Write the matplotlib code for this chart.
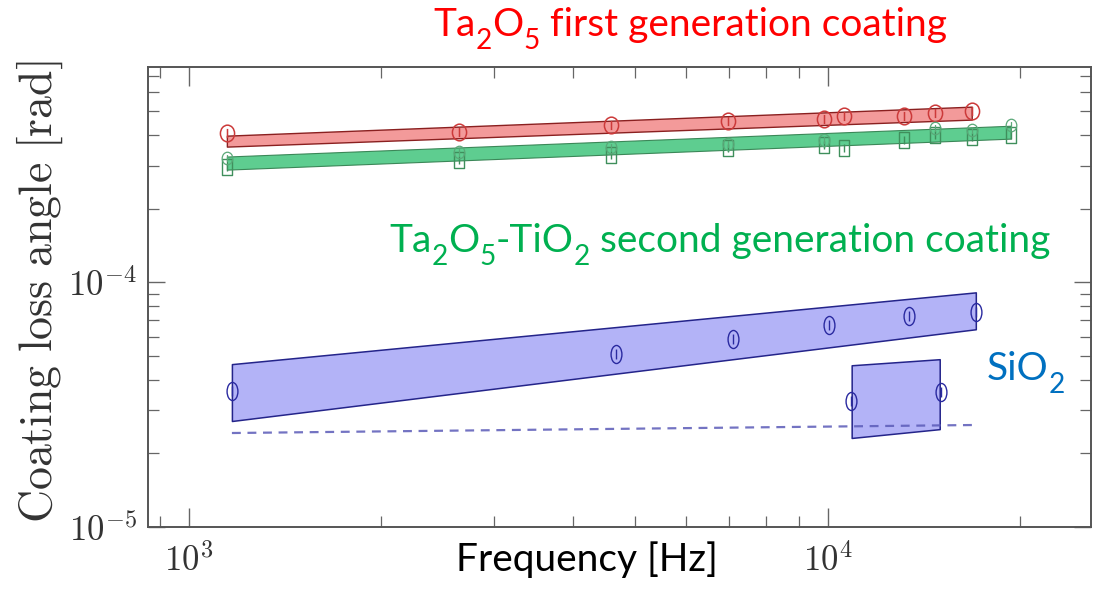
import numpy as np
import matplotlib
matplotlib.use("Agg")
import matplotlib.pyplot as plt
from matplotlib.path import Path
from matplotlib.transforms import Affine2D, IdentityTransform

plt.rcParams["mathtext.fontset"] = "cm"

# --- Ta2O5 (first generation) -------------------------------------------
ta_freq = [1147, 2645, 4575, 6975, 9856, 10590, 13150, 14710, 16800]
ta_loss = [4.08e-4, 4.11e-4, 4.42e-4, 4.58e-4, 4.66e-4, 4.80e-4, 4.77e-4, 4.93e-4, 5.00e-4]
ta_band_freq = [1147, 16800]
ta_band_lo = [3.59e-4, 4.63e-4]
ta_band_hi = [3.98e-4, 5.23e-4]

# --- Ta2O5-TiO2 (second generation) -------------------------------------
tt_sq_freq = [1147, 2645, 4575, 6975, 9856, 10590, 13150, 14710, 16800, 19340]
tt_sq_loss = [2.95e-4, 3.15e-4, 3.33e-4, 3.56e-4, 3.66e-4, 3.56e-4, 3.83e-4, 4.02e-4, 3.94e-4, 4.02e-4]
tt_ci_freq = [1147, 2645, 4575, 6975, 9856, 14710, 16800, 19340]
tt_ci_loss = [3.24e-4, 3.42e-4, 3.59e-4, 3.69e-4, 3.83e-4, 4.29e-4, 4.21e-4, 4.42e-4]
tt_band_freq = [1147, 19340]
tt_band_lo = [2.89e-4, 3.87e-4]
tt_band_hi = [3.27e-4, 4.37e-4]

# --- SiO2 ----------------------------------------------------------------
si_freq = [1168, 4660, 7100, 10040, 13390, 17050]
si_loss = [3.59e-5, 5.08e-5, 5.85e-5, 6.67e-5, 7.27e-5, 7.54e-5]
si_band_freq = [1168, 17050]
si_band_lo = [2.71e-5, 6.43e-5]
si_band_hi = [4.63e-5, 9.10e-5]

si2_freq = [10870, 15030]
si2_loss = [3.27e-5, 3.56e-5]
si2_band_freq = [10900, 14970]
si2_band_lo = [2.31e-5, 2.51e-5]
si2_band_hi = [4.58e-5, 4.85e-5]

si_ref_freq = [1168, 17050]
si_ref_loss = [2.42e-5, 2.61e-5]

# label text: (string, is_subscript) pieces
ta_label = [("Ta", False), ("2", True), ("O", False), ("5", True), (" first generation coating", False)]
tt_label = [("Ta", False), ("2", True), ("O", False), ("5", True), ("-TiO", False), ("2", True),
            (" second generation coating", False)]
si_label = [("SiO", False), ("2", True)]

# marker shapes: outline with a small vertical bar inside
circ = Path.unit_circle()
bar = Path([(0, -0.55), (0, 0.55)], [Path.MOVETO, Path.LINETO])
tall_ellipse = Path.make_compound_path(circ.transformed(Affine2D().scale(0.6, 1.0)), bar)
round_mark = Path.make_compound_path(circ.transformed(Affine2D().scale(0.85, 1.0)), bar)
box_mark = Path.make_compound_path(
    Path([(-0.7, -1), (0.7, -1), (0.7, 1), (-0.7, 1), (-0.7, -1)],
         [Path.MOVETO, Path.LINETO, Path.LINETO, Path.LINETO, Path.CLOSEPOLY]), bar)

W, H, DPI = 1104, 590, 100
fig = plt.figure(figsize=(W / DPI, H / DPI), dpi=DPI)
ax = fig.add_axes([0.134, 0.107, 0.854, 0.7795])
ax.set_xscale("log")
ax.set_yscale("log")
ax.set_xlim(863, 25800)
ax.set_ylim(1.0e-5, 7.6e-4)

# bands
ax.fill_between(ta_band_freq, ta_band_lo, ta_band_hi, facecolor="#f39a9a",
                edgecolor="#8a2020", linewidth=1.0, zorder=2)
ax.fill_between(tt_band_freq, tt_band_lo, tt_band_hi, facecolor="#4cc884",
                edgecolor="#2f7d4c", linewidth=0.8, alpha=0.9, zorder=2)
ax.fill_between(si_band_freq, si_band_lo, si_band_hi, facecolor="#b3b3f7",
                edgecolor="#24248a", linewidth=1.1, zorder=2)
ax.fill_between(si2_band_freq, si2_band_lo, si2_band_hi, facecolor="#b3b3f7",
                edgecolor="#24248a", linewidth=1.1, zorder=2)
ax.plot(si_ref_freq, si_ref_loss, linestyle=(0, (4, 3)), color="#5b5bb8",
        linewidth=1.6, alpha=0.85, zorder=3)

# measured points
ax.plot(ta_freq, ta_loss, linestyle="none", marker=round_mark, markersize=12,
        markerfacecolor="none", markeredgecolor="#cc3a3a", markeredgewidth=1.1, zorder=4)
ax.plot(tt_sq_freq, tt_sq_loss, linestyle="none", marker=box_mark, markersize=11,
        markerfacecolor="none", markeredgecolor="#3f8f5c", markeredgewidth=1.0, zorder=4)
ax.plot(tt_ci_freq, tt_ci_loss, linestyle="none", marker=round_mark, markersize=9,
        markerfacecolor="none", markeredgecolor="#5aa878", markeredgewidth=0.9, zorder=4)
ax.plot(si_freq, si_loss, linestyle="none", marker=tall_ellipse, markersize=13,
        markerfacecolor="none", markeredgecolor="#2a2aa0", markeredgewidth=1.0, zorder=4)
ax.plot(si2_freq, si2_loss, linestyle="none", marker=tall_ellipse, markersize=13,
        markerfacecolor="none", markeredgecolor="#2a2aa0", markeredgewidth=1.0, zorder=4)

# axes styling
for s in ax.spines.values():
    s.set_color("#555555")
    s.set_linewidth(1.4)
ax.tick_params(which="both", direction="in", top=True, right=True, colors="#666666",
               labelcolor="#333333", labelsize=25)
ax.tick_params(which="major", length=14, width=1.0, pad=12)
ax.tick_params(which="minor", length=8, width=0.9)
ax.tick_params(axis="y", which="major", length=12, pad=8)
ax.set_xticks([1e3, 1e4])
ax.set_xticklabels([r"$10^{3}$", r"$10^{4}$"])
ax.set_yticks([1e-5, 1e-4])
ax.set_yticklabels([r"$10^{-5}$", r"$10^{-4}$"])

fig.text(0.036, 0.505, r"$\mathrm{Coating\ loss\ angle\ [rad]}$", rotation=90,
         ha="center", va="center", fontsize=33, color="#333333")

sans = ["Lato", "Noto Sans", "DejaVu Sans"]
renderer = fig.canvas.get_renderer()


def rich_label(pieces, cx, baseline_top, size, color):
    """Place text pieces side by side (pixel coords, y measured from top),
    with large, well-dropped subscripts, centred on cx."""
    sub_size = 0.72 * size
    drop = 0.33 * size * DPI / 72
    texts = []
    for s, is_sub in pieces:
        t = fig.text(0, 0, s, fontsize=sub_size if is_sub else size, color=color,
                     family=sans, ha="left", va="baseline", transform=IdentityTransform())
        texts.append((t, is_sub))
    widths = []
    for t, _ in texts:
        # trailing/leading spaces are measured through a placeholder pair
        raw = t.get_text()
        t.set_text("|" + raw + "|")
        w_full = t.get_window_extent(renderer).width
        t.set_text("||")
        w_bars = t.get_window_extent(renderer).width
        t.set_text(raw)
        widths.append(w_full - w_bars)
    total = sum(widths)
    x = cx - total / 2
    y_base = H - baseline_top
    for (t, is_sub), w in zip(texts, widths):
        t.set_position((x, y_base - drop if is_sub else y_base))
        x += w


rich_label(ta_label, 690, 36, 28, "#ff0000")
rich_label(tt_label, 720, 252, 28, "#00b050")
rich_label(si_label, 1026, 380, 28, "#0070c0")
fig.text(0.532, 0.052, "Frequency [Hz]", color="black", ha="center", va="center",
         fontsize=28, family=sans)

fig.savefig("out.png", dpi=DPI)
